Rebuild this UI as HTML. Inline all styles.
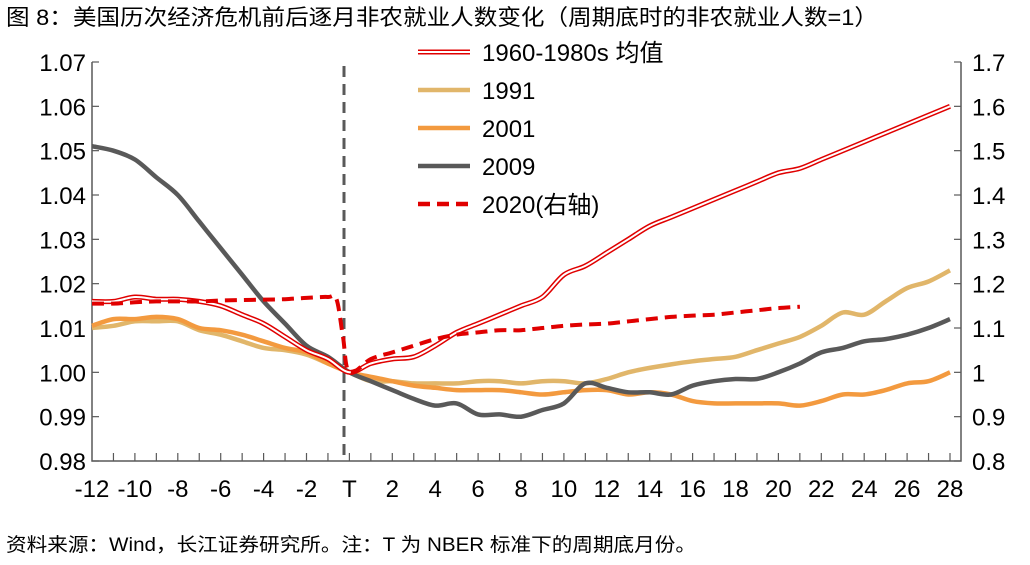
<!DOCTYPE html>
<html><head><meta charset="utf-8"><style>
body{margin:0;background:#fff;width:1030px;height:560px;overflow:hidden;font-family:"Liberation Sans","Noto Sans CJK SC",sans-serif}
</style></head><body>
<svg id="c" width="1030" height="560" xmlns="http://www.w3.org/2000/svg" font-family="Liberation Sans, Noto Sans CJK SC, sans-serif"></svg>
<script>
const months=[];for(let m=-12;m<=28;m++)months.push(m);
const s6080=[1.016,1.016,1.017,1.0165,1.0165,1.016,1.015,1.013,1.011,1.008,1.005,1.003,1.000,1.002,1.003,1.0035,1.006,1.009,1.011,1.013,1.015,1.017,1.022,1.024,1.027,1.030,1.033,1.035,1.037,1.039,1.041,1.043,1.045,1.046,1.048,1.050,1.052,1.054,1.056,1.058,1.060];
const s1991=[1.010,1.0105,1.0115,1.0115,1.0115,1.0095,1.0085,1.007,1.0055,1.005,1.004,1.002,1.000,0.998,0.998,0.9975,0.9975,0.9975,0.998,0.998,0.9975,0.998,0.998,0.9975,0.9985,1.000,1.001,1.0018,1.0025,1.003,1.0035,1.005,1.0065,1.008,1.0105,1.0135,1.013,1.016,1.019,1.0205,1.023];
const s2001=[1.0105,1.012,1.012,1.0125,1.012,1.010,1.0095,1.0085,1.007,1.0055,1.0045,1.002,1.000,0.999,0.998,0.997,0.9965,0.996,0.996,0.996,0.9955,0.995,0.9955,0.996,0.996,0.995,0.9955,0.995,0.9935,0.993,0.993,0.993,0.993,0.9925,0.9935,0.995,0.995,0.996,0.9975,0.998,1.000];
const s2009=[1.051,1.050,1.048,1.044,1.040,1.034,1.028,1.022,1.016,1.011,1.006,1.0035,1.000,0.998,0.996,0.994,0.9925,0.993,0.9905,0.9905,0.990,0.9915,0.993,0.9975,0.9965,0.9955,0.9955,0.995,0.997,0.998,0.9985,0.9985,1.000,1.002,1.0045,1.0055,1.007,1.0075,1.0085,1.010,1.012];
const m2020=[-12,-11,-10,-9,-8,-7,-6,-5,-4,-3,-2,-1,-0.6,-0.3,0,1,2,3,4,5,6,7,8,9,10,11,12,13,14,15,16,17,18,19,20,21];
const s2020=[1.155,1.155,1.158,1.16,1.16,1.16,1.162,1.163,1.164,1.165,1.168,1.17,1.165,1.08,1.0,1.03,1.045,1.06,1.075,1.085,1.09,1.095,1.095,1.10,1.105,1.108,1.11,1.115,1.12,1.125,1.128,1.13,1.135,1.14,1.145,1.148];
const leftTicks=["0.98","0.99","1.00","1.01","1.02","1.03","1.04","1.05","1.06","1.07"];
const rightTicks=["0.8","0.9","1","1.1","1.2","1.3","1.4","1.5","1.6","1.7"];
const xLabels=["-12","-10","-8","-6","-4","-2","T","2","4","6","8","10","12","14","16","18","20","22","24","26","28"];

const svg=document.getElementById('c');const NS="http://www.w3.org/2000/svg";
const L=92,R=961,T=62,B=461;
const x=m=>92+(m+12)*21.45;
const yl=v=>B-(v-0.98)/0.09*(B-T);
const yr=v=>B-(v-0.8)/0.9*(B-T);
function mk(tag,a,txt){const e=document.createElementNS(NS,tag);for(const k in a)e.setAttribute(k,a[k]);if(txt!=null)e.textContent=txt;svg.appendChild(e);return e;}
let t=mk('text',{x:6,y:25,'font-size':22,fill:'#000',textLength:872,lengthAdjust:'spacingAndGlyphs'},'图 8：美国历次经济危机前后逐月非农就业人数变化（周期底时的非农就业人数=1）');

t=mk('text',{x:6,y:551,'font-size':19,fill:'#000',textLength:690,lengthAdjust:'spacingAndGlyphs'},'资料来源：Wind，长江证券研究所。注：T 为 NBER 标准下的周期底月份。');

let a=mk('path',{d:`M${L},${T}V${B}H${R}V${T}`,stroke:'#595959','stroke-width':1.5,fill:'none'});

leftTicks.forEach((lb,i)=>{const v=0.98+i*0.01,y=yl(v);
 mk('line',{x1:L,x2:L+7,y1:y,y2:y,stroke:'#595959','stroke-width':1.2});
 const e=mk('text',{x:86,y:y+9,'font-size':24,'text-anchor':'end'},lb);
 });
rightTicks.forEach((lb,i)=>{const v=0.8+i*0.1,y=yr(v);
 mk('line',{x1:R-7,x2:R,y1:y,y2:y,stroke:'#595959','stroke-width':1.2});
 const e=mk('text',{x:972,y:y+9,'font-size':24},lb);
 });
for(let m=-11;m<=28;m++){mk('line',{x1:x(m),x2:x(m),y1:B,y2:B-8,stroke:'#595959','stroke-width':1.2});}
xLabels.forEach((lb,i)=>{const m=-12+i*2;const e=mk('text',{x:x(m),y:497,'font-size':24,'text-anchor':'middle'},lb);
 });
let d=mk('line',{x1:344,x2:344,y1:66,y2:B,stroke:'#595959','stroke-width':3,'stroke-dasharray':'11,7'});

function path(ms,vs,yf){return ms.map((m,i)=>(i?'L':'M')+x(m).toFixed(1)+','+yf(vs[i]).toFixed(1)).join('');}
function smooth(ms,vs,yf){const P=ms.map((m,i)=>[x(m),yf(vs[i])]);let s='M'+P[0][0].toFixed(1)+','+P[0][1].toFixed(1);
 for(let i=0;i<P.length-1;i++){const p0=P[i-1]||P[i],p1=P[i],p2=P[i+1],p3=P[i+2]||p2;
  const c1=[p1[0]+(p2[0]-p0[0])/6,p1[1]+(p2[1]-p0[1])/6],c2=[p2[0]-(p3[0]-p1[0])/6,p2[1]-(p3[1]-p1[1])/6];
  s+=`C${c1[0].toFixed(1)},${c1[1].toFixed(1)} ${c2[0].toFixed(1)},${c2[1].toFixed(1)} ${p2[0].toFixed(1)},${p2[1].toFixed(1)}`;}return s;}
let p;
p=mk('path',{d:smooth(months,s1991,yl),stroke:'#e1b66a','stroke-width':4.5,fill:'none','stroke-linejoin':'round'});

p=mk('path',{d:smooth(months,s2001,yl),stroke:'#f39a3f','stroke-width':4.5,fill:'none','stroke-linejoin':'round'});

p=mk('path',{d:smooth(months,s2009,yl),stroke:'#595959','stroke-width':4.5,fill:'none','stroke-linejoin':'round'});

p=mk('path',{d:smooth(months,s6080,yl),stroke:'#e00000','stroke-width':5,fill:'none','stroke-linejoin':'round'});

mk('path',{d:smooth(months,s6080,yl),stroke:'#fff','stroke-width':2,fill:'none','stroke-linejoin':'round'});
p=mk('path',{d:smooth(m2020,s2020,yr),stroke:'#e00000','stroke-width':4,fill:'none','stroke-dasharray':'12,7','stroke-linejoin':'round'});

const leg=[['1960-1980s 均值','#e00000','dbl'],['1991','#e1b66a',''],['2001','#f39a3f',''],['2009','#595959',''],['2020(右轴)','#e00000','dash']];
leg.forEach((l,i)=>{const y=52+i*38;
 if(l[2]==='dbl'){mk('line',{x1:418,x2:470,y1:y,y2:y,stroke:l[1],'stroke-width':5});mk('line',{x1:418,x2:470,y1:y,y2:y,stroke:'#fff','stroke-width':2});}
 else mk('line',{x1:418,x2:470,y1:y,y2:y,stroke:l[1],'stroke-width':4.5,'stroke-dasharray':l[2]==='dash'?'12,7':'none'});
 const e=mk('text',{x:482,y:y+9,'font-size':24},l[0]);
 });
</script>
</body></html>
